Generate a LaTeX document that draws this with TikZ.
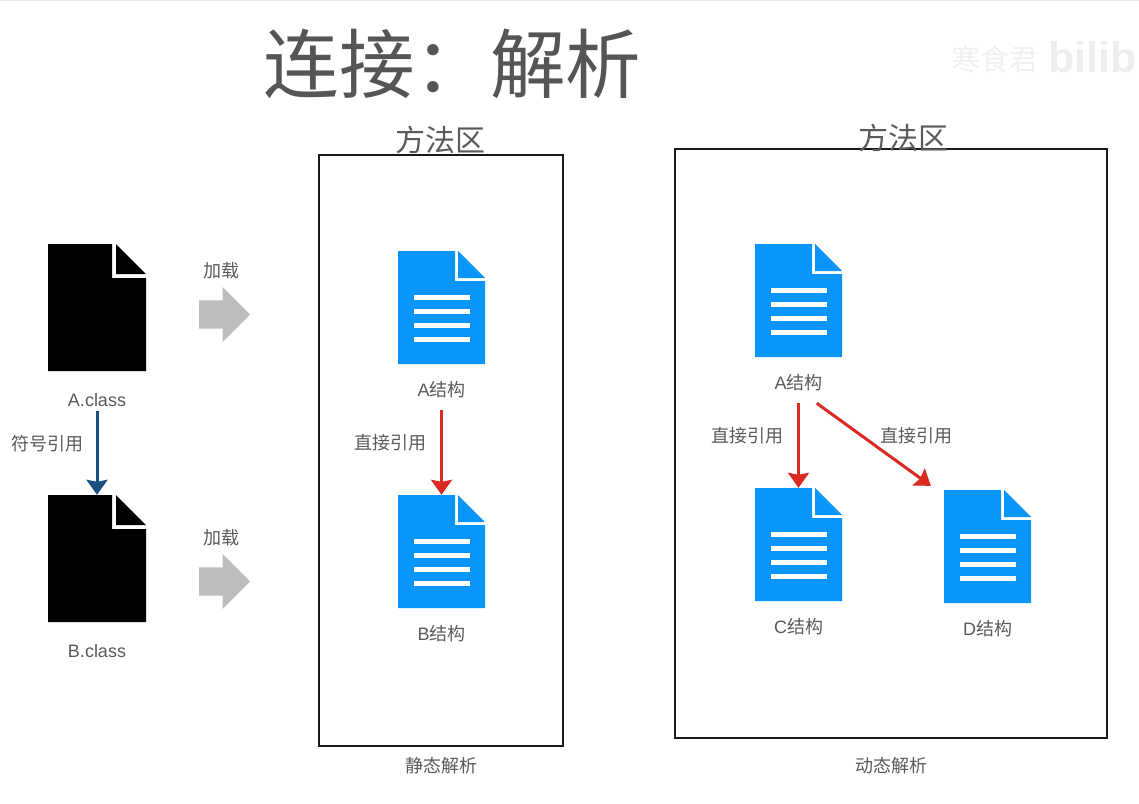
\documentclass[tikz,border=0pt]{standalone}
\usepackage{fontspec}
\setmainfont{Liberation Sans}
\newfontfamily\cjk{Noto Sans CJK SC}
\usepackage{tikz}
\usetikzlibrary{arrows.meta,positioning,shapes.arrows}
\definecolor{labelgray}{HTML}{5A5A5A}
\definecolor{titlegray}{HTML}{555555}
\definecolor{loadgray}{HTML}{BDBDBD}
\definecolor{fileblue}{HTML}{0A95FB}
\definecolor{refred}{HTML}{DA2A22}
\definecolor{refblue}{HTML}{1A4F82}
\tikzset{
  classfile/.style={minimum width=98pt,minimum height=127pt,inner sep=0pt,
    path picture={
      \fill[black] (path picture bounding box.north west) -- ++(64pt,0pt) -- ++(0pt,-34pt)
        -- ++(34pt,0pt) -- (path picture bounding box.south east)
        -- (path picture bounding box.south west) -- cycle;
      \fill[black] (path picture bounding box.north west) ++(68pt,0pt) -- ++(30pt,-30pt) -- ++(-30pt,0pt) -- cycle;
    }},
  structfile/.style={minimum width=87pt,minimum height=113pt,inner sep=0pt,
    path picture={
      \fill[fileblue] (path picture bounding box.north west) -- ++(57pt,0pt) -- ++(0pt,-30pt)
        -- ++(30pt,0pt) -- (path picture bounding box.south east)
        -- (path picture bounding box.south west) -- cycle;
      \fill[fileblue] (path picture bounding box.north west) ++(60pt,0pt) -- ++(27pt,-27pt) -- ++(-27pt,0pt) -- cycle;
      \foreach \yoff in {44,58,72,86}
        \fill[white] (path picture bounding box.north west) ++(16pt,-\yoff pt) rectangle ++(56pt,-5pt);
    }},
  smalltext/.style={text=labelgray,font=\fontsize{18}{20}\selectfont\cjk,inner sep=2pt},
  classtext/.style={text=labelgray,font=\fontsize{18}{20}\selectfont,inner sep=2pt},
  areatext/.style={text=labelgray,font=\fontsize{30}{32}\selectfont\cjk,inner sep=0pt},
  areabox/.style={draw=black!90,line width=2.8pt,inner sep=0pt},
  loadarrow/.style={single arrow,fill=loadgray,inner xsep=0pt,inner ysep=14pt,minimum height=51pt,
    single arrow head extend=13.5pt,single arrow head indent=0pt,anchor=tail},
  symref/.style={draw=refblue,line width=3pt,-{Stealth[length=15pt,width=21pt,inset=2pt]}},
  directref/.style={draw=refred,line width=3pt,-{Stealth[length=15pt,width=21pt,inset=2pt]}}
}
\begin{document}
\begin{tikzpicture}[x=1pt,y=-1pt]
    \useasboundingbox (0,0) rectangle (1139,803);
    \draw[black!10,line width=1pt] (0,0.5) -- (1139,0.5);
    % title and watermark
    \node[text=titlegray,font=\fontsize{75.5}{80}\selectfont\cjk,inner sep=0pt] (title) at (452.5,64) {连接：解析};
    \node[text=black!6,font=\fontsize{29}{30}\selectfont\cjk,inner sep=0pt] (mark) at (995,59) {寒食君};
    \node[text=black!7,font=\fontsize{43}{45}\selectfont\bfseries,inner sep=0pt,anchor=west] (bili) at (1048,57) {bilib};

    % left: the class files
    \node[classfile] (Aclass) at (97,307.5) {};
    \node[classfile] (Bclass) at (97,558.5) {};
    \node[classtext,below=20pt of Aclass] (Aname) {A.class};
    \node[classtext,below=20pt of Bclass] (Bname) {B.class};
    \draw[symref,shorten <=2pt] (Aname.south) -- (Bclass.north);
    \node[smalltext] (symlabel) at (47,444) {符号引用};
    \node[loadarrow] (load1) at (199,314.5) {};
    \node[loadarrow] (load2) at (199,581.5) {};
    \node[smalltext,above=19pt of load1,xshift=4pt] (load1label) {加载};
    \node[smalltext,above=19pt of load2,xshift=4pt] (load2label) {加载};

    % static
    \node[areabox,minimum width=244pt,minimum height=591pt] (staticbox) at (441,450.5) {};
    \node[areatext] (statichead) at (440,140) {方法区};
    \node[smalltext] (staticname) at (441,766) {静态解析};
    \node[structfile] (sA) at (441.5,307.5) {};
    \node[structfile] (sB) at (441.5,551.5) {};
    \node[classtext,below=15pt of sA] (sAname) {A{\cjk 结构}};
    \node[classtext,below=15pt of sB] (sBname) {B{\cjk 结构}};
    \draw[directref,shorten <=10pt] (sAname.south) -- (sB.north);
    \node[smalltext] (slabel) at (390,443) {直接引用};

    % dynamic
    \node[areabox,minimum width=432pt,minimum height=589pt] (dynbox) at (891,443.5) {};
    \node[areatext] (dynhead) at (903,138) {方法区};
    \node[smalltext] (dynname) at (891,766) {动态解析};
    \node[structfile] (dA) at (798.5,300.5) {};
    \node[structfile] (dC) at (798.5,544.5) {};
    \node[structfile] (dD) at (987.5,546.5) {};
    \node[classtext,below=15pt of dA] (dAname) {A{\cjk 结构}};
    \node[classtext,below=15pt of dC] (dCname) {C{\cjk 结构}};
    \node[classtext,below=15pt of dD] (dDname) {D{\cjk 结构}};
    \draw[directref,shorten <=10pt] (dAname.south) -- (dC.north);
    \draw[directref] ([xshift=-8pt,yshift=-10pt]dAname.south east) -- ([xshift=-13pt,yshift=4pt]dD.north west);
    \node[smalltext] (dlabel1) at (747,436) {直接引用};
    \node[smalltext] (dlabel2) at (916,436) {直接引用};
\end{tikzpicture}
\end{document}
